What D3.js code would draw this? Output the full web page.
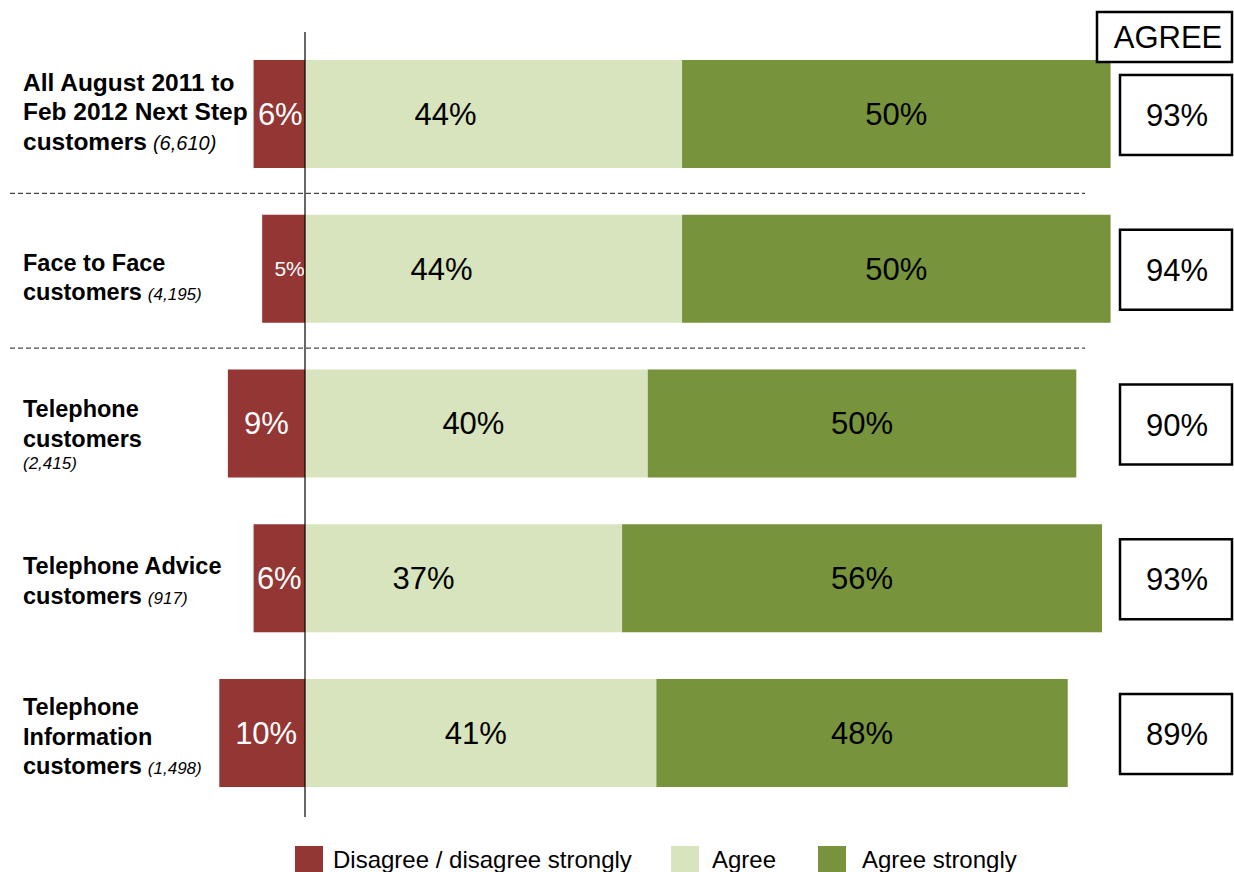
<!DOCTYPE html>
<html>
<head>
<meta charset="utf-8">
<script src="https://cdn.jsdelivr.net/npm/d3@7"></script>
<style>
  html, body { margin: 0; padding: 0; background: #fff; }
  svg { display: block; font-family: "Liberation Sans", Arial, sans-serif; }
</style>
</head>
<body>
<svg id="chart" width="1234" height="872"></svg>
<script>
// Survey groups and their sample sizes
const categories = [
  "All August 2011 to Feb 2012 Next Step customers",
  "Face to Face customers",
  "Telephone customers",
  "Telephone Advice customers",
  "Telephone Information customers"
];
const sampleSizes = ["(6,610)", "(4,195)", "(2,415)", "(917)", "(1,498)"];

// Percentages per response
const disagree = [6, 5, 9, 6, 10];
const agree = [44, 44, 40, 37, 41];
const agreeStrongly = [50, 50, 50, 56, 48];
const totalAgree = [93, 94, 90, 93, 89];

const seriesNames = ["Disagree / disagree strongly", "Agree", "Agree strongly"];
const seriesColors = ["#943634", "#D7E4BD", "#77933C"];

// Wrapped category labels (bold lines), sample size appended in italics
const labelLines = [
  ["All August 2011 to", "Feb 2012 Next Step", "customers"],
  ["Face to Face", "customers"],
  ["Telephone", "customers"],
  ["Telephone Advice", "customers"],
  ["Telephone", "Information", "customers"]
];
const sampleOnOwnLine = [false, false, true, false, false];
const sampleFontSize = [20, 17, 17, 17, 17];
const labelFontSize = [24.5, 23.5, 23.5, 23.5, 23.5];

// Layout tweaks for text placement
const labelBaselineOffset = [31, 56, 48, 50, 36];
const agreeLabelShift = [-48, -52, -3, -40, -5];
const disagreeLabelShift = [1, 6, 0, 0, 4];
const disagreeLabelSize = [31, 21, 31, 31, 31];

const svg = d3.select("#chart");

const x = d3.scaleLinear().domain([0, 100]).range([305, 305 + 857]);
const y = d3.scaleBand()
  .domain(categories)
  .range([36.6, 810.4])
  .paddingInner(0.302)
  .paddingOuter(0.151);

const rows = categories.map((c, i) => ({
  cat: c, i,
  segs: [
    { s: 0, x0: -disagree[i], x1: 0, v: disagree[i] },
    { s: 1, x0: 0, x1: agree[i], v: agree[i] },
    { s: 2, x0: agree[i], x1: agree[i] + agreeStrongly[i], v: agreeStrongly[i] }
  ]
}));

// Dashed separators below the first two groups
const sepY = [0, 1].map(i => (y(categories[i]) + y.bandwidth() + y(categories[i + 1])) / 2 + 2);
svg.selectAll("line.sep").data(sepY).join("line")
  .attr("class", "sep")
  .attr("x1", 10).attr("x2", 1085)
  .attr("y1", d => d).attr("y2", d => d)
  .attr("stroke", "#444").attr("stroke-width", 1.2)
  .attr("stroke-dasharray", "5,3");

// Bars
const g = svg.selectAll("g.row").data(rows).join("g").attr("class", "row");
g.selectAll("rect").data(d => d.segs.map(s => ({ ...s, cat: d.cat }))).join("rect")
  .attr("x", d => x(d.x0))
  .attr("width", d => x(d.x1) - x(d.x0))
  .attr("y", d => y(d.cat))
  .attr("height", y.bandwidth())
  .attr("fill", d => seriesColors[d.s]);

// Value labels in bars
g.each(function (d) {
  const row = d3.select(this);
  const cy = y(d.cat) + y.bandwidth() / 2;
  const dseg = d.segs[0];
  row.append("text")
    .attr("x", x((dseg.x0 + dseg.x1) / 2) + disagreeLabelShift[d.i])
    .attr("y", cy)
    .attr("dy", "0.35em")
    .attr("text-anchor", "middle")
    .attr("fill", "#fff")
    .style("font-size", disagreeLabelSize[d.i] + "px")
    .text(dseg.v + "%");
  const aseg = d.segs[1];
  row.append("text")
    .attr("x", x((aseg.x0 + aseg.x1) / 2) + agreeLabelShift[d.i])
    .attr("y", cy)
    .attr("dy", "0.35em")
    .attr("text-anchor", "middle")
    .attr("fill", "#000")
    .style("font-size", "31px")
    .text(aseg.v + "%");
  const sseg = d.segs[2];
  row.append("text")
    .attr("x", x((sseg.x0 + sseg.x1) / 2))
    .attr("y", cy)
    .attr("dy", "0.35em")
    .attr("text-anchor", "middle")
    .attr("fill", "#000")
    .style("font-size", "31px")
    .text(sseg.v + "%");
});

// Zero line
svg.append("line")
  .attr("x1", x(0)).attr("x2", x(0))
  .attr("y1", 32).attr("y2", 817)
  .attr("stroke", "#000").attr("stroke-width", 1.2);

// Category labels
rows.forEach(d => {
  const lines = labelLines[d.i];
  const base = y(d.cat) + labelBaselineOffset[d.i];
  const t = svg.append("text")
    .attr("x", 23)
    .style("font-weight", "bold")
    .style("font-size", labelFontSize[d.i] + "px")
    .attr("fill", "#000");
  lines.forEach((ln, k) => {
    t.append("tspan").attr("x", 23).attr("y", base + k * 29.5).text(ln);
  });
  const last = lines.length - 1;
  if (sampleOnOwnLine[d.i]) {
    t.append("tspan")
      .attr("x", 23).attr("y", base + last * 29.5 + 22)
      .style("font-weight", "normal").style("font-style", "italic")
      .style("font-size", sampleFontSize[d.i] + "px")
      .text(sampleSizes[d.i]);
  } else {
    t.append("tspan")
      .attr("dx", 6)
      .style("font-weight", "normal").style("font-style", "italic")
      .style("font-size", sampleFontSize[d.i] + "px")
      .text(sampleSizes[d.i]);
  }
});

// Total agree header and boxes
svg.append("rect")
  .attr("x", 1097).attr("y", 12).attr("width", 135).attr("height", 50)
  .attr("fill", "#fff").attr("stroke", "#000").attr("stroke-width", 2.5);
svg.append("text")
  .attr("x", 1168).attr("y", 37).attr("dy", "0.36em")
  .attr("text-anchor", "middle").style("font-size", "31px")
  .text("AGREE");

const boxH = 80;
svg.selectAll("g.total").data(rows).join("g").attr("class", "total")
  .each(function (d) {
    const cy = y(d.cat) + y.bandwidth() / 2 + 1;
    const gg = d3.select(this);
    gg.append("rect")
      .attr("x", 1120).attr("y", cy - boxH / 2)
      .attr("width", 112).attr("height", boxH)
      .attr("fill", "#fff").attr("stroke", "#000").attr("stroke-width", 2.5);
    gg.append("text")
      .attr("x", 1177).attr("y", cy).attr("dy", "0.36em")
      .attr("text-anchor", "middle").style("font-size", "31px")
      .text(totalAgree[d.i] + "%");
  });

// Legend
const legendX = [295, 671, 818];
const legend = svg.selectAll("g.legend").data(seriesNames).join("g").attr("class", "legend")
  .attr("transform", (d, i) => `translate(${legendX[i]},846)`);
legend.append("rect")
  .attr("width", 28).attr("height", 27)
  .attr("fill", (d, i) => seriesColors[i]);
legend.append("text")
  .attr("x", (d, i) => [38, 41, 44][i])
  .attr("y", 22)
  .style("font-size", "24px")
  .text(d => d);
</script>
</body>
</html>
